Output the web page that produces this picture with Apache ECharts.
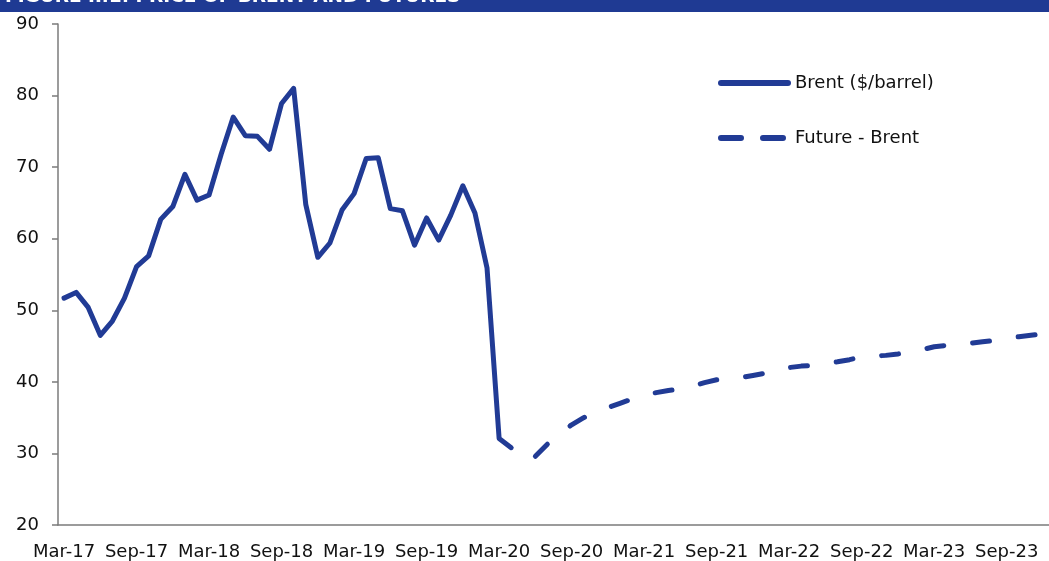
<!DOCTYPE html>
<html>
<head>
<meta charset="utf-8">
<script src="https://cdn.jsdelivr.net/npm/echarts@6/dist/echarts.min.js"></script>
<style>
  html, body { margin: 0; padding: 0; background: #ffffff; }
  #chart { width: 1049px; height: 561px; }
</style>
</head>
<body>
<div id="chart"></div>
<script>
// Monthly categories, Mar-17 .. Dec-23
const monthNames = ['Jan','Feb','Mar','Apr','May','Jun','Jul','Aug','Sep','Oct','Nov','Dec'];
const months = [];
for (let y = 2017; y <= 2023; y++) {
  for (let m = (y === 2017 ? 2 : 0); m < 12; m++) {
    months.push(monthNames[m] + '-' + String(y).slice(2));
  }
}

// Brent spot, monthly average ($/barrel), Mar-17 .. Apr-20
const brent = [
  51.7, 52.5, 50.4, 46.5, 48.5, 51.7, 56.1, 57.6, 62.7, 64.5,
  69.0, 65.4, 66.1, 71.8, 77.0, 74.4, 74.3, 72.5, 78.9, 81.0, 64.8, 57.4,
  59.4, 64.0, 66.3, 71.2, 71.3, 64.2, 63.9, 59.1, 62.9, 59.8, 63.3, 67.4,
  63.6, 55.9, 32.1, 30.8
];

// Brent futures curve, Jun-20 .. Dec-23
const futureStart = 'Jun-20';
const future = [
  29.6, 31.3, 32.7, 34.0, 35.0, 35.8, 36.4,
  37.0, 37.6, 38.1, 38.5, 38.8, 39.0, 39.4, 39.9, 40.3, 40.5, 40.6, 40.9,
  41.2, 41.7, 42.0, 42.2, 42.3, 42.6, 42.8, 43.1, 43.5, 43.6, 43.7, 43.9,
  44.2, 44.5, 44.9, 45.1, 45.3, 45.4, 45.6, 45.8, 46.1, 46.3, 46.5, 46.7
];

const yTicks = { min: 20, max: 90, step: 10 };
const titleText = 'FIGURE II.1: PRICE OF BRENT AND FUTURES';

const seriesNames = ['Brent ($/barrel)', 'Future - Brent'];

// Align both series on the full month axis
const brentFull = months.map((_, i) => (i < brent.length ? brent[i] : null));
const fStart = months.indexOf(futureStart);
const futureFull = months.map((_, i) => (i >= fStart && i - fStart < future.length ? future[i - fStart] : null));

const BLUE = '#213b95';
const AXIS = '#7b7b7b';
const FONT = '"DejaVu Sans", sans-serif';

const chart = echarts.init(document.getElementById('chart'), null, { renderer: 'canvas' });

chart.setOption({
  animation: false,
  backgroundColor: '#ffffff',
  graphic: [
    { type: 'rect', left: 0, top: 0, z: 10,
      shape: { width: 1049, height: 12 }, style: { fill: '#1f3a93' } },
    { type: 'text', z: 11, x: 5, y: 7,
      style: { text: titleText, fill: '#ffffff', font: 'bold 18.5px "DejaVu Sans", sans-serif',
               verticalAlign: 'bottom', align: 'left' } }
  ],
  grid: { left: 58, right: 0, top: 24, bottom: 36, containLabel: false },
  legend: {
    orient: 'vertical',
    left: 713, top: 69,
    itemWidth: 67, itemHeight: 18, itemGap: 37,
    textStyle: { fontFamily: FONT, fontSize: 18, color: '#111111', padding: [0, 0, 0, 2] },
    data: [
      { name: seriesNames[0], itemStyle: { opacity: 0 },
        lineStyle: { color: BLUE, width: 6, cap: 'round', type: 'solid' } },
      { name: seriesNames[1], itemStyle: { opacity: 0 },
        lineStyle: { color: BLUE, width: 6, cap: 'round', type: [20, 22] } }
    ]
  },
  xAxis: {
    type: 'category',
    data: months,
    boundaryGap: true,
    axisLine: { lineStyle: { color: AXIS, width: 1.5 } },
    axisTick: { interval: 5, length: 6, lineStyle: { color: AXIS, width: 1.5 } },
    axisLabel: { interval: 5, margin: 18, color: '#111111', fontFamily: FONT, fontSize: 18 },
    splitLine: { show: false }
  },
  yAxis: {
    type: 'value',
    min: yTicks.min, max: yTicks.max, interval: yTicks.step,
    axisLine: { show: true, lineStyle: { color: AXIS, width: 1.5 } },
    axisTick: { show: true, length: 6, lineStyle: { color: AXIS, width: 1.5 } },
    axisLabel: { margin: 19, color: '#111111', fontFamily: FONT, fontSize: 18 },
    splitLine: { show: false }
  },
  series: [
    { name: seriesNames[0], type: 'line', data: brentFull, symbol: 'none',
      connectNulls: false,
      lineStyle: { color: BLUE, width: 5, cap: 'round', join: 'round' },
      itemStyle: { color: BLUE } },
    { name: seriesNames[1], type: 'line', data: futureFull, symbol: 'none',
      connectNulls: false,
      lineStyle: { color: BLUE, width: 5, cap: 'round', join: 'round', type: [17, 29] },
      itemStyle: { color: BLUE } }
  ]
});
</script>
</body>
</html>
